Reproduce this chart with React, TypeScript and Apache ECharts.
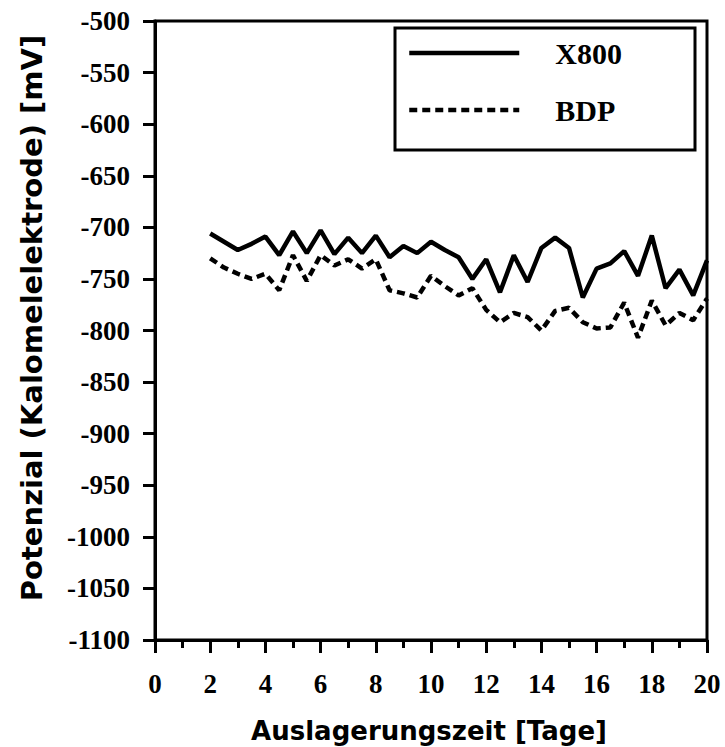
import React, { useEffect, useRef } from "react";
import * as echarts from "echarts";

const days = [2, 2.5, 3, 3.5, 4, 4.5, 5, 5.5, 6, 6.5, 7, 7.5, 8, 8.5, 9, 9.5, 10, 10.5, 11, 11.5, 12, 12.5, 13, 13.5, 14, 14.5, 15, 15.5, 16, 16.5, 17, 17.5, 18, 18.5, 19, 19.5, 20];
const x800 = [-706, -714, -722, -716, -709, -727, -704, -725, -703, -726, -710, -725, -708, -729, -718, -725, -714, -722, -729, -750, -731, -763, -727, -753, -720, -710, -720, -768, -740, -735, -723, -747, -708, -759, -741, -766, -732];
const bdp = [-730, -739, -745, -750, -745, -761, -727, -752, -727, -737, -731, -740, -731, -761, -764, -768, -747, -757, -766, -759, -780, -792, -783, -787, -800, -781, -778, -792, -798, -797, -773, -807, -771, -795, -783, -790, -769];
const seriesNames = ["X800", "BDP"];
const xTitle = "Auslagerungszeit [Tage]";
const yTitle = "Potenzial (Kalomelelektrode) [mV]";

export default function App() {
  const ref = useRef<HTMLDivElement>(null);
  useEffect(() => {
    document.body.style.margin = "0";
    if (!ref.current) return;
    const chart = echarts.init(ref.current, undefined, { renderer: "svg" });
    const serif = "Liberation Serif";
    const sans = "DejaVu Sans";
    chart.setOption({
      animation: false,
      backgroundColor: "#fff",
      grid: {
        left: 155,
        right: 18,
        top: 21,
        bottom: 107,
        show: true,
        borderColor: "#000",
        borderWidth: 3,
        backgroundColor: "transparent",
      },
      xAxis: {
        type: "value",
        min: 0,
        max: 20,
        interval: 2,
        axisLine: { show: true, lineStyle: { color: "#000", width: 3 } },
        axisTick: { show: true, length: 13, lineStyle: { color: "#000", width: 3 } },
        minorTick: { show: true, splitNumber: 2, length: 8, lineStyle: { color: "#000", width: 3 } },
        splitLine: { show: false },
        axisLabel: { color: "#000", fontFamily: serif, fontWeight: "bold", fontSize: 27, margin: 30, formatter: (v: number) => String(v) },
      },
      yAxis: {
        type: "value",
        min: -1100,
        max: -500,
        interval: 50,
        axisLine: { show: true, lineStyle: { color: "#000", width: 3 } },
        axisTick: { show: true, length: 12, lineStyle: { color: "#000", width: 3 } },
        splitLine: { show: false },
        axisLabel: { color: "#000", fontFamily: serif, fontWeight: "bold", fontSize: 27, margin: 25, formatter: (v: number) => String(v) },
      },
      legend: {
        orient: "vertical",
        left: 402,
        top: 33,
        itemWidth: 110,
        itemHeight: 14,
        itemGap: 27,
        data: seriesNames,
        itemStyle: { opacity: 0 },
        lineStyle: { width: 4.5 },
        textStyle: { color: "#000", fontFamily: serif, fontWeight: "bold", fontSize: 30, padding: [8, 0, 0, 31] },
      },
      graphic: [
        {
          type: "rect",
          shape: { x: 395, y: 28, width: 300, height: 122 },
          style: { fill: "none", stroke: "#000", lineWidth: 3 },
          z: 10,
        },
        {
          type: "text",
          x: 429,
          y: 731,
          style: { text: xTitle, font: `bold 26px ${sans}`, fill: "#000", align: "center", verticalAlign: "middle" },
        },
        {
          type: "text",
          x: 32,
          y: 318,
          rotation: Math.PI / 2,
          style: { text: yTitle, font: `bold 29px ${sans}`, fill: "#000", align: "center", verticalAlign: "middle" },
        },
      ],
      series: [
        {
          name: seriesNames[0],
          type: "line",
          data: days.map((d, i) => [d, x800[i]]),
          symbol: "none",
          lineStyle: { color: "#000", width: 4.5, type: "solid" },
          itemStyle: { color: "#000" },
        },
        {
          name: seriesNames[1],
          type: "line",
          data: days.map((d, i) => [d, bdp[i]]),
          symbol: "none",
          lineStyle: { color: "#000", width: 4.5, type: [8, 5] },
          itemStyle: { color: "#000" },
        },
      ],
    });
    return () => chart.dispose();
  }, []);
  return <div ref={ref} style={{ width: 725, height: 747 }} />;
}
